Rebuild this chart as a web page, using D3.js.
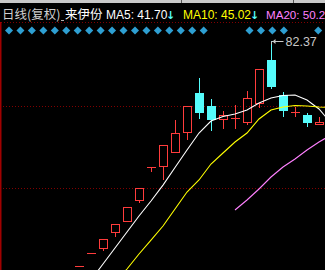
<!DOCTYPE html>
<html><head><meta charset="utf-8">
<script src="https://cdn.jsdelivr.net/npm/d3@7/dist/d3.min.js"></script>
<style>
html,body{margin:0;padding:0;background:#000;overflow:hidden}
svg{display:block}
</style></head>
<body><svg id="c" width="325" height="270"></svg>
<script>
// ---- data ----
const dates = ["2016-10-20","2016-10-21","2016-10-24","2016-10-25","2016-10-26","2016-10-27","2016-10-28",
  "2016-10-31","2016-11-01","2016-11-02","2016-11-03","2016-11-04","2016-11-07","2016-11-08","2016-11-09",
  "2016-11-10","2016-11-11","2016-11-14","2016-11-15","2016-11-16","2016-11-17","2016-11-18"];
const open  = [30.16,33.11,34.34,38.05,40.60,45.48,53.13,53.36,56.61,61.25,70.30,67.29,64.27,64.50,63.57,67.98,77.96,69.84,65.89,65.20,63.11];
const high  = [30.16,33.11,36.43,39.91,43.85,48.26,53.13,58.24,64.04,67.29,73.78,68.91,66.13,67.52,70.77,75.87,82.37,70.53,67.05,65.66,64.74];
const low   = [30.16,33.11,33.87,37.12,40.60,45.01,52.20,50.35,56.61,59.63,64.50,61.72,62.18,62.18,63.11,67.05,71.46,64.97,64.97,62.65,63.11];
const close = [30.16,33.11,36.43,39.91,43.85,48.26,53.13,58.24,61.02,67.29,65.89,64.27,65.20,64.50,69.14,75.87,71.93,66.36,65.89,63.57,63.57];
const ma5  = [23.43,26.91,30.63,34.34,38.05,41.76,45.24,48.93,53.02,57.07,61.02,63.80,64.85,65.43,66.36,67.98,69.14,69.72,69.84,68.68,66.59,63.34];
const ma10 = [null,null,null,26.22,29.47,32.95,36.19,39.44,43.39,47.33,50.12,53.83,56.38,58.93,61.02,64.27,66.36,67.05,67.40,67.29,67.05,66.94];
const ma20 = [null,null,null,null,null,null,null,null,null,null,null,null,null,43.16,45.48,48.03,50.81,53.13,54.99,57.08,58.93,60.56];
const gridPrices = [48.26, 67.29];
const markerSlots = [0,1,2,3,4,5,6,7,8,9,10,11,12,13,14,15,16,17,21,22,23,24,27];
const highLabel = "82.37";
const headerTitle = "日线(复权)";
const stockName = "来伊份";
const maLabels = ["MA5: 41.70","MA10: 45.02","MA20: 50.2"];

// ---- scales ----
const svg = d3.select("#c");
const x = d3.scaleLinear().domain([0, dates.length - 1]).range([79, 79 + 12 * (dates.length - 1)]);
const y = d3.scaleLinear().domain([30, 82.37]).range([266.7, 41]);
const mx = d3.scaleLinear().domain([0, 27]).range([9, 318.2]);

const RED = "#ff3c3c", CYAN = "#55fcfc", GRID = "#800000";

// top toolbar remnant
svg.append("rect").attr("x",0).attr("y",0).attr("width",325).attr("height",3).attr("fill","#c8c8c8");
svg.append("rect").attr("x",181).attr("y",0).attr("width",1).attr("height",3).attr("fill","#555");
svg.append("rect").attr("x",293).attr("y",0).attr("width",1).attr("height",3).attr("fill","#555");

// header texts
const hdr = svg.append("g").attr("font-size",12.5);
hdr.append("text").attr("x",2).attr("y",19).attr("fill","#d0d0d0")
  .attr("font-family","'Noto Sans CJK SC'").text(headerTitle);
hdr.append("rect").attr("x",61).attr("y",20).attr("width",3).attr("height",1).attr("fill","#b0b0b0");
hdr.append("text").attr("x",65).attr("y",19).attr("fill","#ffffff")
  .attr("font-family","'Noto Sans CJK SC'").text(stockName);
const maFont = "'Liberation Sans', Arial, sans-serif";
hdr.append("text").attr("x",106).attr("y",19).attr("fill","#ffffff").attr("font-family",maFont).attr("font-size",12).text(maLabels[0]);
hdr.append("text").attr("x",166).attr("y",19).attr("fill",CYAN).attr("font-family","'DejaVu Sans'").attr("font-weight","bold").attr("font-size",11).text("↓");
hdr.append("text").attr("x",183).attr("y",19).attr("fill","#ffff00").attr("font-family",maFont).attr("font-size",12).text(maLabels[1]);
hdr.append("text").attr("x",250).attr("y",19).attr("fill",CYAN).attr("font-family","'DejaVu Sans'").attr("font-weight","bold").attr("font-size",11).text("↓");
hdr.append("text").attr("x",266).attr("y",19).attr("fill","#ff80ff").attr("font-family",maFont).attr("font-size",11.6).text(maLabels[2]);

// separator dotted line
svg.append("line").attr("x1",1).attr("x2",325).attr("y1",22.5).attr("y2",22.5)
  .attr("stroke",GRID).attr("stroke-dasharray","1,2").attr("shape-rendering","crispEdges");

// left frame line
svg.append("rect").attr("x",0).attr("y",22).attr("width",1.5).attr("height",248).attr("fill","#a00000");

// diamond markers
svg.append("g").selectAll("path").data(markerSlots).join("path")
  .attr("d", d3.symbol(d3.symbolSquare, 32))
  .attr("transform", d => `translate(${mx(d)},30.5) rotate(45)`)
  .attr("fill","#2e9fd2");

// grid lines
svg.append("g").selectAll("line").data(gridPrices).join("line")
  .attr("x1",3).attr("x2",325)
  .attr("y1", d => Math.round(y(d)) + 0.5).attr("y2", d => Math.round(y(d)) + 0.5)
  .attr("stroke",GRID).attr("stroke-dasharray","1,2").attr("shape-rendering","crispEdges");

// clip
svg.append("clipPath").attr("id","plot").append("rect").attr("x",2).attr("y",34).attr("width",323).attr("height",236);
const plot = svg.append("g").attr("clip-path","url(#plot)");

// candles
const candles = open.map((o,i)=>({i, o, h:high[i], l:low[i], c:close[i]}));
const cg = plot.append("g").attr("shape-rendering","crispEdges");
candles.forEach(d => {
  const cx = Math.round(x(d.i));
  const up = d.c >= d.o;
  const col = up ? RED : CYAN;
  const top = Math.round(y(Math.max(d.o,d.c)));
  const bot = Math.round(y(Math.min(d.o,d.c)));
  const yh = Math.round(y(d.h)), yl = Math.round(y(d.l));
  if (yh < top) cg.append("line").attr("x1",cx+0.5).attr("x2",cx+0.5).attr("y1",yh).attr("y2",top).attr("stroke",col);
  if (yl > bot) cg.append("line").attr("x1",cx+0.5).attr("x2",cx+0.5).attr("y1",bot).attr("y2",yl+1).attr("stroke",col);
  if (bot - top < 1) {
    cg.append("line").attr("x1",cx-4).attr("x2",cx+5).attr("y1",top+0.5).attr("y2",top+0.5).attr("stroke",col);
  } else if (up) {
    cg.append("rect").attr("x",cx-3.5).attr("y",top+0.5).attr("width",8).attr("height",bot-top)
      .attr("fill","none").attr("stroke",col);
  } else {
    cg.append("rect").attr("x",cx-4).attr("y",top).attr("width",9).attr("height",bot-top+1).attr("fill",col);
  }
});

// MA lines
const line = d3.line().defined(d => d.v != null).x(d => x(d.i)).y(d => y(d.v));
[[ma5,"#ffffff"],[ma10,"#ffff00"],[ma20,"#ff80ff"]].forEach(([arr,col]) => {
  plot.append("path").datum(arr.map((v,i)=>({i,v})))
    .attr("d", line).attr("fill","none").attr("stroke",col).attr("stroke-width",1.1);
});

// high annotation
const hi = high.indexOf(d3.max(high));
const hx = Math.round(x(hi)) + 0.5, hy = Math.round(y(high[hi])) + 0.5;
const ann = svg.append("g").attr("stroke","#c8c8c8").attr("fill","none");
ann.append("line").attr("x1",hx).attr("x2",hx+12).attr("y1",hy).attr("y2",hy);
ann.append("line").attr("x1",hx).attr("x2",hx).attr("y1",hy).attr("y2",hy+3);
ann.append("path").attr("d",`M${hx+1},${hy}L${hx+4},${hy-2.5}L${hx+4},${hy+2.5}Z`).attr("fill","#c8c8c8").attr("stroke","none");
svg.append("text").attr("x",hx+14).attr("y",hy+4.5).attr("fill","#c8c8c8")
  .attr("font-family",maFont).attr("font-size",12.5).text(highLabel);
</script></body></html>
